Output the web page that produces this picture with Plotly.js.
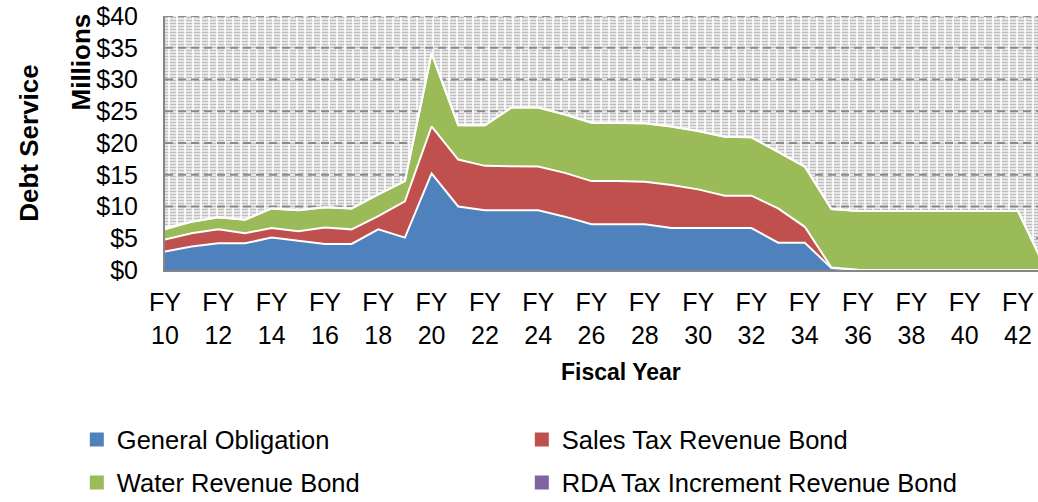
<!DOCTYPE html>
<html>
<head>
<meta charset="utf-8">
<script src="https://cdn.plot.ly/plotly-3.0.1.min.js"></script>
<style>html,body{margin:0;padding:0;background:#fff;}#chart{width:1038px;height:502px;}</style>
</head>
<body>
<div id="chart"></div>
<script>
// Fiscal years (FY10 .. FY43)
var fiscalYears = [10,11,12,13,14,15,16,17,18,19,20,21,22,23,24,25,26,27,28,29,30,31,32,33,34,35,36,37,38,39,40,41,42,43];
// Debt service, $ millions
var generalObligation = [2.9,3.7,4.2,4.2,5.1,4.6,4.1,4.1,6.4,5.1,15.2,10.0,9.4,9.4,9.4,8.4,7.2,7.2,7.2,6.6,6.6,6.7,6.6,4.3,4.3,0.3,0.05,0,0,0,0,0,0,0];
var salesTaxRevenueBond = [1.9,2.1,2.2,1.6,1.5,1.5,2.6,2.3,2.1,5.7,7.4,7.4,7.0,6.9,6.9,6.9,6.8,6.8,6.7,6.8,6.1,5.0,5.1,5.4,2.5,0.1,0,0,0,0,0,0,0,0];
var waterRevenueBond = [1.6,1.8,1.9,2.1,3.1,3.3,3.2,3.3,3.4,3.2,11.5,5.4,6.4,9.3,9.3,9.2,9.2,9.2,9.2,9.2,9.2,9.3,9.2,8.9,9.5,9.2,9.25,9.3,9.3,9.3,9.3,9.3,9.3,0.5];
var rdaTaxIncrementBond = [0.3,0,0,0,0,0,0,0,0,0,0,0,0,0,0,0,0,0,0,0,0,0,0,0,0,0,0,0,0,0,0,0,0,0];
var seriesNames = ["General Obligation","Sales Tax Revenue Bond","Water Revenue Bond","RDA Tax Increment Revenue Bond"];
var seriesColors = ["#4F81BD","#C0504D","#9BBB59","#8064A2"];
// axis ticks
var yTickValues = [0,5,10,15,20,25,30,35,40];
var yTickLabels = ["$0","$5","$10","$15","$20","$25","$30","$35","$40"];
var xTickValues = [10,12,14,16,18,20,22,24,26,28,30,32,34,36,38,40,42];
var xTickLabels = xTickValues.map(function(v){return "FY<br>" + v;});

var FONT = "Liberation Sans, Arial, sans-serif";
var xMin = fiscalYears[0], xMax = fiscalYears[fiscalYears.length-1] + 1;
var yTop = yTickValues[yTickValues.length-1];

var traces = [];
// plot-area pattern fill (horizontal light-grey dashes)
traces.push({x:[xMin,xMax], y:[yTop,yTop], type:"scatter", mode:"none", fill:"tozeroy",
  fillcolor:"#bdbdbd", fillpattern:{shape:"-", fgcolor:"#bebebe", size:3, solidity:0.6},
  hoverinfo:"skip", showlegend:false});
traces.push({x:[xMin,xMax], y:[yTop,yTop], type:"scatter", mode:"none", fill:"tozeroy",
  fillcolor:"#ffffff", fillpattern:{shape:"|", fgcolor:"#ffffff", size:8, solidity:0.2},
  hoverinfo:"skip", showlegend:false});
// major dashed gridlines
var gx = [], gy = [];
yTickValues.slice(1).forEach(function(v){ gx.push(xMin, xMax, null); gy.push(v, v, null); });
traces.push({x:gx, y:gy, type:"scatter", mode:"lines", line:{color:"#8a8a8a", width:2, dash:"8px,5px"},
  hoverinfo:"skip", showlegend:false});

var seriesData = [generalObligation, salesTaxRevenueBond, waterRevenueBond, rdaTaxIncrementBond];
seriesData.forEach(function(vals, i){
  traces.push({x:fiscalYears, y:vals, type:"scatter", mode:"lines", stackgroup:"debt",
    name:seriesNames[i], line:{color:"#ffffff", width:2}, fillcolor:seriesColors[i], showlegend:false});
});
// legend entries (square swatches)
seriesNames.forEach(function(n, i){
  traces.push({x:[null], y:[null], type:"scatter", mode:"markers", name:n,
    marker:{symbol:"square", size:14, color:seriesColors[i], line:{color:"#ffffff", width:0}},
    legend: i < 2 ? "legend" : "legend2", hoverinfo:"skip"});
});

var layout = {
  width:1038, height:502,
  margin:{l:165, r:0, t:16, b:232, autoexpand:false},
  paper_bgcolor:"#ffffff", plot_bgcolor:"#ffffff",
  font:{family:FONT, size:25, color:"#000000"},
  xaxis:{range:[xMin, xMin + 32.75], tickvals:xTickValues, ticktext:xTickLabels,
    showgrid:false, zeroline:false, showline:true, linecolor:"#868686", linewidth:2,
    ticks:"", ticklabelstandoff:9, tickfont:{family:FONT, size:25}},
  yaxis:{range:[0, yTop], tickvals:yTickValues, ticktext:yTickLabels,
    showgrid:false, zeroline:false, showline:true, linecolor:"#868686", linewidth:2,
    ticks:"", ticklabelstandoff:20, tickfont:{family:FONT, size:25},
    title:{text:"<b>Debt Service</b>", font:{family:FONT, size:26}, standoff:50}},
  annotations:[
    {text:"<b>Millions</b>", xref:"paper", yref:"paper", x:0, y:1, xshift:-85, yshift:4,
     xanchor:"center", yanchor:"top", textangle:-90, showarrow:false, font:{family:FONT, size:26}},
    {text:"<b>Fiscal Year</b>", xref:"paper", yref:"paper", x:0.522, y:-0.4016,
     xanchor:"center", yanchor:"middle", showarrow:false, font:{family:FONT, size:23}}
  ],
  legend:{orientation:"h", traceorder:"normal", x:-0.101, xanchor:"left", y:-0.669, yanchor:"middle",
    entrywidth:400, entrywidthmode:"pixels", font:{family:FONT, size:25.5}, bgcolor:"rgba(0,0,0,0)"},
  legend2:{orientation:"h", traceorder:"normal", x:-0.101, xanchor:"left", y:-0.838, yanchor:"middle",
    entrywidth:400, entrywidthmode:"pixels", font:{family:FONT, size:25.5}, bgcolor:"rgba(0,0,0,0)"},
  showlegend:true
};
Plotly.newPlot("chart", traces, layout, {displayModeBar:false, staticPlot:true});
</script>
</body>
</html>
